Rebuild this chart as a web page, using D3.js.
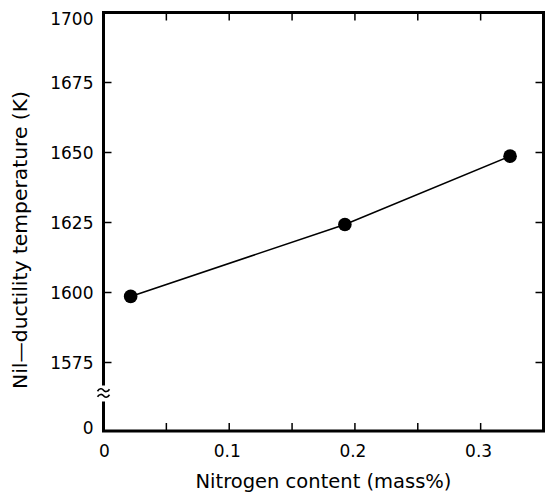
<!DOCTYPE html>
<html>
<head>
<meta charset="utf-8">
<script src="https://cdn.jsdelivr.net/npm/d3@7"></script>
<style>
  html, body { margin: 0; padding: 0; background: #fff; }
  svg text { font-family: "DejaVu Sans", sans-serif; fill: #000; }
</style>
</head>
<body>
<svg id="chart" width="546" height="497"></svg>
<script>
// ---- data ----
const nitrogen = [0.0216, 0.192, 0.3234];          // mass%
const nilDuctilityT = [1598.6, 1624.3, 1648.7];     // K
const xTickValues = [0, 0.1, 0.2, 0.3];
const xMinorTicks = [0.05, 0.15, 0.25];
const yTickValues = [1575, 1600, 1625, 1650, 1675, 1700];
const yZeroTick = [0];
const xTitle = "Nitrogen content (mass%)";
const yTitle = "Nil\u2014ductility temperature (K)";

// ---- layout ----
const svg = d3.select("#chart");
const mLeft = 103.5, mRight = 543.5, mTop = 12.5, mBottom = 431;
const x = d3.scaleLinear().domain([0, 0.35]).range([mLeft, mRight]);
// broken axis: 0 at bottom, 1575..1700 in the upper part
const y = d3.scaleLinear().domain([0, 1575, 1700]).range([mBottom, 362.5, mTop]);

const tickLen = 8;
const g = svg.append("g");

// ticks (inward) on all four sides
const allX = xTickValues.concat(xMinorTicks).filter(v => v > 0);
g.selectAll(".xtb").data(allX).join("line")
  .attr("x1", d => x(d)).attr("x2", d => x(d))
  .attr("y1", mBottom).attr("y2", mBottom - tickLen)
  .attr("stroke", "#000").attr("stroke-width", 1.5);
g.selectAll(".xtt").data(allX).join("line")
  .attr("x1", d => x(d)).attr("x2", d => x(d))
  .attr("y1", mTop).attr("y2", mTop + tickLen)
  .attr("stroke", "#000").attr("stroke-width", 1.5);
const innerY = yTickValues.filter(v => v < 1700);
g.selectAll(".ytl").data(innerY).join("line")
  .attr("x1", mLeft).attr("x2", mLeft + tickLen)
  .attr("y1", d => y(d)).attr("y2", d => y(d))
  .attr("stroke", "#000").attr("stroke-width", 1.5);
g.selectAll(".ytr").data(innerY).join("line")
  .attr("x1", mRight).attr("x2", mRight - tickLen)
  .attr("y1", d => y(d)).attr("y2", d => y(d))
  .attr("stroke", "#000").attr("stroke-width", 1.5);

// frame (left axis has a break)
const breakY = 393, gapTop = 384, gapBot = 403;
const frame = g.append("g").attr("stroke", "#000").attr("stroke-width", 3).attr("fill", "none");
frame.append("path").attr("d", `M${mLeft},${gapTop} L${mLeft},${mTop} L${mRight},${mTop} L${mRight},${mBottom} L${mLeft},${mBottom} L${mLeft},${gapBot}`)
  .attr("stroke-linejoin", "miter").attr("stroke-linecap", "square");

// break symbol (≈)
const brk = g.append("g").attr("stroke", "#000").attr("stroke-width", 1.6).attr("fill", "none");
[-2.8, 2.8].forEach(off => {
  const yy = breakY + off;
  brk.append("path").attr("d",
    `M${mLeft - 6},${yy + 1} C${mLeft - 4},${yy - 2} ${mLeft - 1.5},${yy - 2} ${mLeft},${yy} S${mLeft + 4},${yy + 2} ${mLeft + 6},${yy - 1}`);
});

// tick labels
g.selectAll(".xl").data(xTickValues).join("text")
  .attr("x", d => x(d) - (d === 0 ? -1 : 2)).attr("y", 456.5)
  .attr("text-anchor", "middle").attr("font-size", 17)
  .text(d => d === 0 ? "0" : d3.format(".1f")(d));
g.selectAll(".yl").data(yTickValues.concat(yZeroTick)).join("text")
  .attr("x", 93.5).attr("y", d => y(d) + (d === 1700 ? 6 : d === 0 ? -3.5 : 0)).attr("dy", "0.36em")
  .attr("text-anchor", "end").attr("font-size", 17)
  .text(d => d);

// axis titles
g.append("text").attr("x", (mLeft + mRight) / 2).attr("y", 487.5)
  .attr("text-anchor", "middle").attr("font-size", 19.5).text(xTitle);
g.append("text").attr("transform", `translate(27,240) rotate(-90)`)
  .attr("text-anchor", "middle").attr("font-size", 20.3).text(yTitle);

// data line + points
const pts = nitrogen.map((v, i) => [v, nilDuctilityT[i]]);
g.append("path").datum(pts)
  .attr("d", d3.line().x(d => x(d[0])).y(d => y(d[1])))
  .attr("fill", "none").attr("stroke", "#000").attr("stroke-width", 1.6);
g.selectAll(".pt").data(pts).join("circle")
  .attr("cx", d => x(d[0])).attr("cy", d => y(d[1])).attr("r", 6.8)
  .attr("fill", "#000");
</script>
</body>
</html>
